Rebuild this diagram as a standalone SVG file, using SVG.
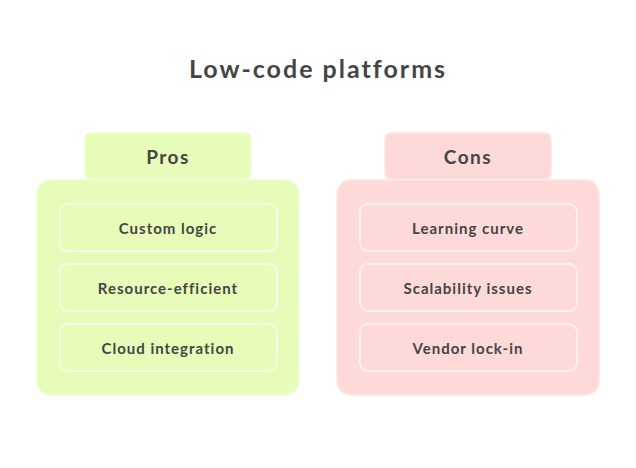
<svg xmlns="http://www.w3.org/2000/svg" width="636" height="468" viewBox="0 0 636 468">
<style>
text{font-family:"Lato","Open Sans",sans-serif;fill:#454545;text-anchor:middle;font-weight:bold}
.title{font-size:25px;letter-spacing:2px}
.head{font-size:19px;letter-spacing:1.5px}
.item{font-size:15px;letter-spacing:1px}
.g{fill:#e6fcb8;stroke:#eefcd2;stroke-width:1.5}
.r{fill:#fdd9d7;stroke:#fde6e4;stroke-width:1.5}
.gi{fill:#e6fcb8;stroke:#f6fde6;stroke-width:2}
.ri{fill:#fdd9d7;stroke:#fff0ef;stroke-width:2}
</style>
<rect width="636" height="468" fill="#ffffff"/>
<text class="title" x="318" y="78">Low-code platforms</text>
<g id="pros">
<rect class="g" x="85" y="133" width="166" height="46" rx="6"/>
<text class="head" x="168" y="164">Pros</text>
<rect class="g" x="37" y="180" width="262" height="215" rx="14"/>
<g id="pros-1"><rect class="gi" x="60" y="204" width="217" height="47" rx="8"/><text class="item" x="168" y="234">Custom logic</text></g>
<g id="pros-2"><rect class="gi" x="60" y="264" width="217" height="47" rx="8"/><text class="item" x="168" y="294">Resource-efficient</text></g>
<g id="pros-3"><rect class="gi" x="60" y="324" width="217" height="47" rx="8"/><text class="item" x="168" y="354">Cloud integration</text></g>
</g>
<g id="cons">
<rect class="r" x="385" y="133" width="166" height="46" rx="6"/>
<text class="head" x="468" y="164">Cons</text>
<rect class="r" x="337" y="180" width="262" height="215" rx="14"/>
<g id="cons-1"><rect class="ri" x="360" y="204" width="217" height="47" rx="8"/><text class="item" x="468" y="234">Learning curve</text></g>
<g id="cons-2"><rect class="ri" x="360" y="264" width="217" height="47" rx="8"/><text class="item" x="468" y="294">Scalability issues</text></g>
<g id="cons-3"><rect class="ri" x="360" y="324" width="217" height="47" rx="8"/><text class="item" x="468" y="354">Vendor lock-in</text></g>
</g>
</svg>
